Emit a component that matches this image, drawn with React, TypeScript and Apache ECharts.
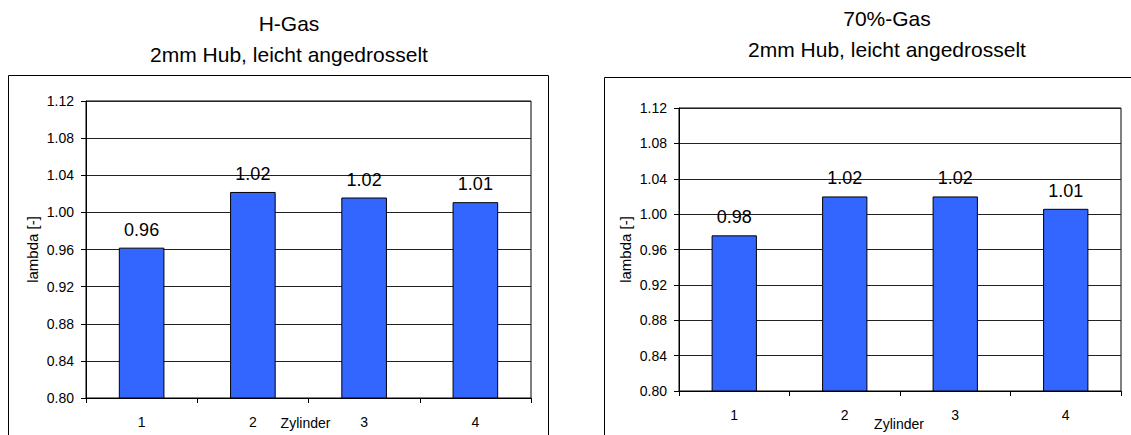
import React, { useEffect, useRef } from 'react';
import * as echarts from 'echarts';

const categories = ['1', '2', '3', '4'];
const hGasValues = [0.962, 1.022, 1.016, 1.011];
const gas70Values = [0.976, 1.02, 1.02, 1.006];
const leftTitle = 'H-Gas\n2mm Hub, leicht angedrosselt';
const rightTitle = '70%-Gas\n2mm Hub, leicht angedrosselt';
const yName = 'lambda [-]';
const xName = 'Zylinder';
const yMin = 0.8;
const yMax = 1.12;
const yStep = 0.04;

const FONT = '"Liberation Sans", Arial, Helvetica, sans-serif';

function makeX(gridIndex: number, nameGap: number, shift: number, labelMargin: number) {
  return {
    gridIndex,
    type: 'category',
    data: categories,
    boundaryGap: true,
    name: xName,
    nameLocation: 'middle',
    nameGap,
    nameMoveOverlap: false,
    nameTextStyle: { fontFamily: FONT, fontSize: 14, color: '#000', padding: [0, shift * 2, 0, 0] },
    axisLine: { show: true, lineStyle: { color: '#000', width: 1 } },
    axisTick: { show: true, length: 5, lineStyle: { color: '#000' } },
    axisLabel: { margin: labelMargin, fontFamily: FONT, fontSize: 14, color: '#000' },
    splitLine: { show: false },
  };
}

function makeY(gridIndex: number) {
  return {
    gridIndex,
    type: 'value',
    min: yMin,
    max: yMax,
    interval: yStep,
    name: yName,
    nameLocation: 'middle',
    nameGap: 46,
    nameRotate: 90,
    nameMoveOverlap: false,
    nameTextStyle: { fontFamily: FONT, fontSize: 15, color: '#000' },
    axisLine: { show: true, lineStyle: { color: '#000', width: 1 } },
    axisTick: { show: true, length: 5, lineStyle: { color: '#000' } },
    axisLabel: {
      margin: 12,
      fontFamily: FONT,
      fontSize: 14,
      color: '#000',
      formatter: (v: number) => v.toFixed(2),
    },
    splitLine: { show: true, lineStyle: { color: '#222', width: 1 } },
  };
}

function makeSeries(idx: number, data: number[]) {
  return {
    type: 'bar',
    xAxisIndex: idx,
    yAxisIndex: idx,
    data,
    barWidth: '41%',
    itemStyle: { color: '#3366FF', borderColor: '#000', borderWidth: 1 },
    label: {
      show: true,
      position: 'top',
      distance: 9,
      fontFamily: FONT,
      fontSize: 18,
      color: '#000',
      formatter: (p: any) => Number(p.value).toFixed(2),
    },
  };
}

export default function App() {
  const ref = useRef<HTMLDivElement>(null);
  useEffect(() => {
    if (!ref.current) return;
    const chart = echarts.init(ref.current, null, { renderer: 'svg' });
    chart.setOption({
      animation: false,
      backgroundColor: '#fff',
      title: [
        {
          text: leftTitle,
          left: 289,
          top: 8,
          textAlign: 'center',
          padding: 0,
          textStyle: { fontFamily: FONT, fontSize: 21, fontWeight: 'normal', color: '#000', lineHeight: 31 },
        },
        {
          text: rightTitle,
          left: 887,
          top: 3,
          textAlign: 'center',
          padding: 0,
          textStyle: { fontFamily: FONT, fontSize: 21, fontWeight: 'normal', color: '#000', lineHeight: 31 },
        },
      ],
      grid: [
        { left: 86, top: 101, width: 445, height: 297, show: true, borderColor: '#000', borderWidth: 1, backgroundColor: 'transparent', containLabel: false, outerBoundsMode: 'none' },
        { left: 679, top: 108, width: 442, height: 283, show: true, borderColor: '#000', borderWidth: 1, backgroundColor: 'transparent', containLabel: false, outerBoundsMode: 'none' },
      ],
      xAxis: [makeX(0, 18, 3, 17), makeX(1, 26, 1, 17)],
      yAxis: [makeY(0), makeY(1)],
      series: [makeSeries(0, hGasValues), makeSeries(1, gas70Values)],
      graphic: [
        { type: 'rect', silent: true, shape: { x: 8.5, y: 75.5, width: 540, height: 500 }, style: { fill: 'none', stroke: '#000', lineWidth: 1 } },
        { type: 'rect', silent: true, shape: { x: 604.5, y: 77.5, width: 600, height: 500 }, style: { fill: 'none', stroke: '#000', lineWidth: 1 } },
      ],
    });
    return () => chart.dispose();
  }, []);
  return (
    <div
      ref={ref}
      style={{ position: 'absolute', left: 0, top: 0, width: 1131, height: 435, background: '#fff' }}
    />
  );
}
